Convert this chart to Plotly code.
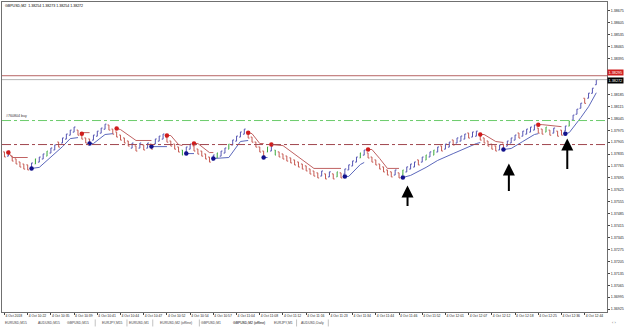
import plotly.graph_objects as go

# ---------------- data ----------------
opens = [1.37848, 1.37823, 1.37824, 1.37807, 1.37789, 1.37777, 1.37772, 1.37753, 1.37777, 1.37788,
         1.37806, 1.37823, 1.37841, 1.37859, 1.37906, 1.37900, 1.37923, 1.37946, 1.37964, 1.37976,
         1.37953, 1.37930, 1.37924, 1.37917, 1.37940, 1.37958, 1.37981, 1.38006, 1.37982, 1.37965,
         1.37947, 1.37930, 1.37912, 1.37870, 1.37883, 1.37870, 1.37889, 1.37870, 1.37894, 1.37894,
         1.37911, 1.37923, 1.37935, 1.37912, 1.37894, 1.37877, 1.37859, 1.37847, 1.37864, 1.37883,
         1.37865, 1.37853, 1.37836, 1.37818, 1.37800, 1.37812, 1.37823, 1.37841, 1.37864, 1.37888,
         1.37911, 1.37935, 1.37952, 1.37959, 1.37935, 1.37906, 1.37877, 1.37853, 1.37847, 1.37853,
         1.37859, 1.37848, 1.37836, 1.37824, 1.37813, 1.37801, 1.37789, 1.37777, 1.37766, 1.37748,
         1.37736, 1.37725, 1.37706, 1.37719, 1.37701, 1.37719, 1.37701, 1.37725, 1.37718, 1.37742,
         1.37765, 1.37788, 1.37812, 1.37829, 1.37842, 1.37818, 1.37801, 1.37777, 1.37760, 1.37742,
         1.37731, 1.37712, 1.37725, 1.37712, 1.37730, 1.37747, 1.37759, 1.37801, 1.37788, 1.37800,
         1.37818, 1.37829, 1.37847, 1.37883, 1.37864, 1.37876, 1.37918, 1.37900, 1.37911, 1.37923,
         1.37959, 1.37935, 1.37940, 1.37947, 1.37930, 1.37912, 1.37894, 1.37883, 1.37859, 1.37894,
         1.37882, 1.37900, 1.37917, 1.37959, 1.37940, 1.37952, 1.37964, 1.37976, 1.37988, 1.37982,
         1.37964, 1.37976, 1.37958, 1.37970, 1.37976, 1.37970, 1.37999, 1.38034, 1.38069, 1.38104,
         1.38163, 1.38163, 1.38192, 1.38242]
closes = [1.37818, 1.37853, 1.37794, 1.37777, 1.37759, 1.37747, 1.37742, 1.37783, 1.37807, 1.37818,
          1.37836, 1.37853, 1.37871, 1.37889, 1.37876, 1.37930, 1.37953, 1.37976, 1.37994, 1.37946,
          1.37923, 1.37900, 1.37894, 1.37947, 1.37970, 1.37988, 1.38011, 1.37976, 1.37952, 1.37935,
          1.37917, 1.37900, 1.37882, 1.37900, 1.37853, 1.37900, 1.37859, 1.37900, 1.37864, 1.37924,
          1.37941, 1.37953, 1.37905, 1.37882, 1.37864, 1.37847, 1.37829, 1.37877, 1.37894, 1.37853,
          1.37835, 1.37823, 1.37806, 1.37788, 1.37830, 1.37842, 1.37853, 1.37871, 1.37894, 1.37918,
          1.37941, 1.37965, 1.37982, 1.37929, 1.37905, 1.37876, 1.37847, 1.37823, 1.37877, 1.37883,
          1.37829, 1.37818, 1.37806, 1.37794, 1.37783, 1.37771, 1.37759, 1.37747, 1.37736, 1.37718,
          1.37706, 1.37695, 1.37736, 1.37689, 1.37731, 1.37689, 1.37731, 1.37695, 1.37748, 1.37772,
          1.37795, 1.37818, 1.37842, 1.37859, 1.37812, 1.37788, 1.37771, 1.37747, 1.37730, 1.37712,
          1.37701, 1.37742, 1.37695, 1.37742, 1.37760, 1.37777, 1.37789, 1.37771, 1.37818, 1.37830,
          1.37848, 1.37859, 1.37877, 1.37853, 1.37894, 1.37906, 1.37888, 1.37930, 1.37941, 1.37953,
          1.37929, 1.37965, 1.37970, 1.37917, 1.37900, 1.37882, 1.37864, 1.37853, 1.37889, 1.37864,
          1.37912, 1.37930, 1.37947, 1.37929, 1.37970, 1.37982, 1.37994, 1.38006, 1.37958, 1.37952,
          1.37994, 1.37946, 1.37988, 1.37940, 1.37946, 1.38000, 1.38029, 1.38064, 1.38099, 1.38134,
          1.38133, 1.38193, 1.38222, 1.38272]
green_bars = [8, 11, 46, 55, 58, 68, 70, 86, 92, 103, 109, 111, 140, 146]

# trailing stop segments: (bar index, price) vertices
red_stop_segments = [
    [(1, 1.37844), (2, 1.37815), (6, 1.37815)],
    [(20, 1.37961), (22, 1.37961)],
    [(29, 1.37985), (30, 1.37979), (34, 1.37915), (38, 1.37915)],
    [(42, 1.37944), (43, 1.37944), (45, 1.37891), (46, 1.37885)],
    [(49, 1.37897), (50, 1.37897), (53, 1.37844), (54, 1.37844)],
    [(63, 1.37961), (64, 1.37955), (66, 1.37897), (67, 1.37897)],
    [(69, 1.37891), (72, 1.37885), (80, 1.37751), (87, 1.37751)],
    [(94, 1.37862), (95, 1.37862), (97, 1.37809), (99, 1.37751), (102, 1.37751)],
    [(123, 1.37950), (124, 1.37950), (127, 1.37909), (129, 1.37903)],
    [(138, 1.38008), (139, 1.38008), (144, 1.37996)],
]
blue_stop_segments = [
    [(7, 1.37751), (9, 1.37757), (15, 1.37879), (17, 1.37926), (19, 1.37932)],
    [(22, 1.37897), (23, 1.37897), (26, 1.37950), (28, 1.37955)],
    [(38, 1.37879), (42, 1.37879)],
    [(47, 1.37838), (49, 1.37838)],
    [(54, 1.37809), (58, 1.37815), (61, 1.37909), (63, 1.37915)],
    [(67, 1.37815), (68, 1.37815)],
    [(88, 1.37704), (89, 1.37704), (92, 1.37774), (93, 1.37786)],
    [(103, 1.37698), (105, 1.37710), (109, 1.37757), (112, 1.37798), (116, 1.37838),
     (119, 1.37868), (122, 1.37897), (123, 1.37903)],
    [(129, 1.37862), (131, 1.37868), (134, 1.37909), (137, 1.37950), (138, 1.37955)],
    [(145, 1.37955), (146, 1.37961), (149, 1.38049), (151, 1.38113), (153, 1.38195)],
]
red_dot_bars = [1, 20, 29, 42, 49, 63, 69, 94, 123, 138]
red_dot_prices = [1.37844, 1.37955, 1.37985, 1.37944, 1.37897, 1.37961, 1.37891, 1.37862, 1.37950, 1.38008]
blue_dot_bars = [7, 22, 38, 47, 54, 67, 88, 103, 129, 145]
blue_dot_prices = [1.37751, 1.37897, 1.37879, 1.37838, 1.37809, 1.37815, 1.37704, 1.37698, 1.37862, 1.37955]

buy_level = 1.38032
red_level = 1.37891
ask_price = 1.38295
bid_price = 1.38272

arrow_bars = [104.2, 130.4, 145.5]
arrow_tip_prices = [1.37651, 1.37780, 1.37926]
arrow_lengths = [22, 29, 32]

x_tick_bars = [0, 6, 12, 18, 24, 30, 36, 42, 48, 54, 60, 66, 72, 78, 84, 90, 96, 102, 108, 114,
               120, 126, 132, 138, 144, 150]
x_tick_labels = ["4 Oct 2018", "4 Oct 10:22", "4 Oct 10:35", "4 Oct 10:39", "4 Oct 10:41",
                 "4 Oct 10:44", "4 Oct 10:47", "4 Oct 10:52", "4 Oct 10:54", "4 Oct 10:57",
                 "4 Oct 11:04", "4 Oct 11:08", "4 Oct 11:12", "4 Oct 11:16", "4 Oct 11:23",
                 "4 Oct 11:34", "4 Oct 11:44", "4 Oct 11:46", "4 Oct 11:52", "4 Oct 12:01",
                 "4 Oct 12:07", "4 Oct 12:12", "4 Oct 12:18", "4 Oct 12:25", "4 Oct 12:36",
                 "4 Oct 12:44"]
y_ticks = [1.38675, 1.38605, 1.38535, 1.38465, 1.38395, 1.38325, 1.38255, 1.38185, 1.38115,
           1.38045, 1.37975, 1.37905, 1.37835, 1.37765, 1.37695, 1.37625, 1.37555, 1.37485,
           1.37415, 1.37345, 1.37275, 1.37205, 1.37135, 1.37065, 1.36995, 1.36925]
# tick labels hidden behind the ask / bid price boxes
y_ticks_covered = [1.38325, 1.38255]

title_text = "GBPUSD,M2  1.38254 1.38273 1.38254 1.38272"
tabs = ["EURUSD,M15", "AUDUSD,M15", "GBPUSD,M15", "EURJPY,M15", "EURUSD,M1",
        "EURUSD,M2 (offline)", "GBPUSD,M1", "GBPUSD,M2 (offline)", "EURJPY,M1", "AUDUSD,Daily"]
tab_px = [15, 48, 78, 112, 139, 176, 212, 250, 285, 314]
active_tab = 7

# ---------------- figure ----------------
W, H = 625, 328
ML, MR, MT, MB = 1, 14, 1, 16
PW, PH = W - ML - MR, H - MT - MB

def px_x(p):
    return (p - ML) / PW

def px_y(p):
    return (H - MB - p) / PH

FONT = "Liberation Sans, Arial, sans-serif"
UP, DOWN, GREEN = "#5656b4", "#c65a52", "#3aa83a"

fig = go.Figure()
n = len(opens)
idx = list(range(n))
norm = [i for i in idx if i not in green_bars]

def ohlc(ids, inc, dec, tw):
    o = [opens[i] for i in ids]
    c = [closes[i] for i in ids]
    return go.Ohlc(x=ids, open=o, close=c,
                   high=[max(a, b) for a, b in zip(o, c)],
                   low=[min(a, b) for a, b in zip(o, c)],
                   increasing=dict(line=dict(color=inc, width=1)),
                   decreasing=dict(line=dict(color=dec, width=1)),
                   tickwidth=tw, hoverinfo="skip")

fig.add_trace(ohlc(norm, UP, DOWN, 0.35))
fig.add_trace(ohlc(green_bars, GREEN, GREEN, 0.17))

def seg_xy(segs):
    xs, ys = [], []
    for s in segs:
        for a, b in s:
            xs.append(a)
            ys.append(b)
        xs.append(None)
        ys.append(None)
    return xs, ys

rx, ry = seg_xy(red_stop_segments)
bx, by = seg_xy(blue_stop_segments)
fig.add_trace(go.Scatter(x=rx, y=ry, mode="lines", line=dict(color="#c06262", width=1), hoverinfo="skip"))
fig.add_trace(go.Scatter(x=bx, y=by, mode="lines", line=dict(color="#5c68bc", width=1), hoverinfo="skip"))
fig.add_trace(go.Scatter(x=red_dot_bars, y=red_dot_prices, mode="markers",
                         marker=dict(color="#d01c1c", size=4.5), hoverinfo="skip"))
fig.add_trace(go.Scatter(x=blue_dot_bars, y=blue_dot_prices, mode="markers",
                         marker=dict(color="#12128c", size=4.5), hoverinfo="skip"))

# horizontal levels
fig.add_hline(y=buy_level, line=dict(color="#6ccc6c", width=1, dash="dashdot"))
fig.add_hline(y=red_level, line=dict(color="#a0464e", width=1, dash="dashdot"))
fig.add_hline(y=ask_price, line=dict(color="#b86464", width=1))
fig.add_hline(y=bid_price, line=dict(color="#b4b4b4", width=1))

ann = []
ann.append(dict(xref="paper", yref="paper", x=px_x(2), y=px_y(1), xanchor="left", yanchor="top",
                text=title_text, showarrow=False, font=dict(size=3.6, color="#000", family=FONT)))
ann.append(dict(xref="paper", yref="y", x=px_x(3), y=buy_level, xanchor="left", yanchor="bottom",
                yshift=1, text="#760804 buy", showarrow=False,
                font=dict(size=3.6, color="#333", family=FONT)))
# price labels on axis
ann.append(dict(xref="paper", yref="y", x=1, y=ask_price, xanchor="left", yanchor="middle",
                yshift=3, text="1.38295", showarrow=False, bgcolor="#d02020",
                font=dict(size=3.8, color="#fff", family=FONT), borderpad=0.5))
ann.append(dict(xref="paper", yref="y", x=1, y=bid_price, xanchor="left", yanchor="middle",
                yshift=-1, text="1.38272", showarrow=False, bgcolor="#000",
                font=dict(size=3.8, color="#fff", family=FONT), borderpad=0.5))
# arrows
for xb, yp, ln in zip(arrow_bars, arrow_tip_prices, arrow_lengths):
    ann.append(dict(xref="x", yref="y", x=xb, y=yp, ax=0, ay=ln, axref="pixel", ayref="pixel",
                    showarrow=True, arrowhead=2, arrowsize=1.2, arrowwidth=2, arrowcolor="#000",
                    text=""))
# tabs
for k, (t, p) in enumerate(zip(tabs, tab_px)):
    ann.append(dict(xref="paper", yref="paper", x=px_x(p), y=px_y(323), xanchor="center",
                    yanchor="middle", text=t, showarrow=False,
                    font=dict(size=3.4, color="#000" if k == active_tab else "#444", family=FONT)))
ann.append(dict(xref="paper", yref="paper", x=px_x(618), y=px_y(323), xanchor="center",
                yanchor="middle", text="‹ ›", showarrow=False,
                font=dict(size=4, color="#666", family=FONT)))

shapes = [
    dict(type="rect", xref="paper", yref="paper", x0=px_x(0), x1=px_x(625), y0=px_y(318),
         y1=px_y(328), fillcolor="#efefef", line=dict(width=0), layer="below"),
    dict(type="rect", xref="paper", yref="paper", x0=px_x(227), x1=px_x(273), y0=px_y(318),
         y1=px_y(328), fillcolor="#ffffff", line=dict(color="#888", width=0.6)),
]
for p in [31, 64, 95, 127, 153, 200, 298, 330]:
    shapes.append(dict(type="line", xref="paper", yref="paper", x0=px_x(p), x1=px_x(p),
                       y0=px_y(319.5), y1=px_y(326.5), line=dict(color="#999", width=0.6)))

fig.update_layout(
    width=W, height=H, margin=dict(l=ML, r=MR, t=MT, b=MB),
    paper_bgcolor="white", plot_bgcolor="white", showlegend=False,
    annotations=ann, shapes=shapes,
    xaxis=dict(range=[-0.641, 155.77], tickvals=x_tick_bars, ticktext=x_tick_labels,
               tickangle=0, ticklabelposition="outside right",
               tickfont=dict(size=3.4, color="#222", family=FONT),
               ticks="outside", ticklen=2, tickcolor="#444", showgrid=False, zeroline=False,
               showline=True, mirror=True, linecolor="#707070", linewidth=1,
               rangeslider=dict(visible=False), fixedrange=True),
    yaxis=dict(range=[1.369083, 1.387277], side="right", tickvals=y_ticks,
               ticktext=["" if v in y_ticks_covered else f"{v:.5f}" for v in y_ticks],
               tickfont=dict(size=3.6, color="#222", family=FONT),
               ticks="outside", ticklen=2, tickcolor="#444", showgrid=False, zeroline=False,
               showline=True, mirror=True, linecolor="#707070", linewidth=1, fixedrange=True),
)

fig.write_html("out.html")
